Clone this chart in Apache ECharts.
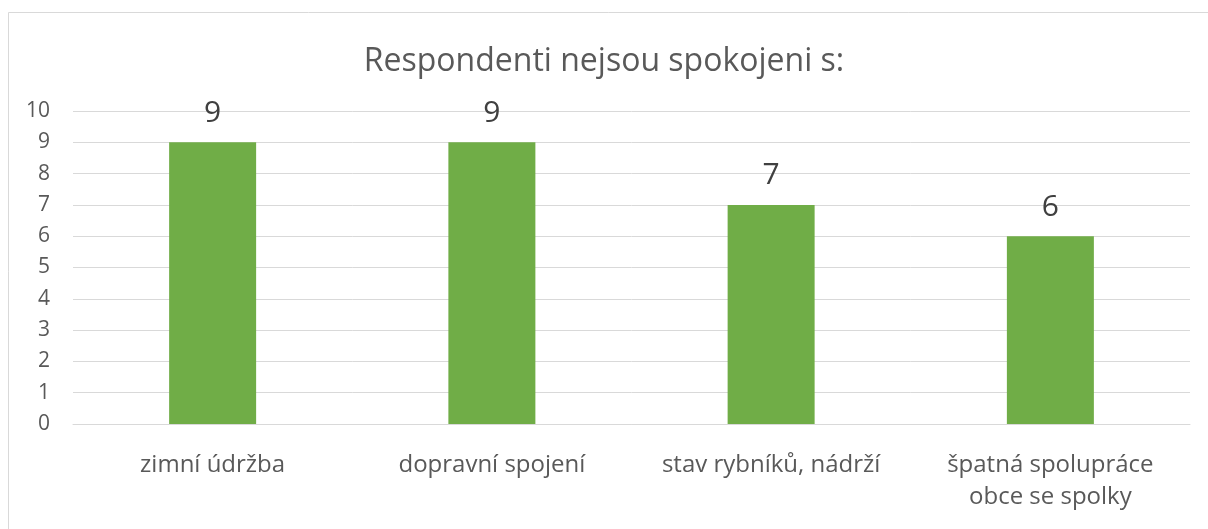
<!DOCTYPE html>
<html>
<head>
<meta charset="utf-8">
<script src="https://cdn.jsdelivr.net/npm/echarts@6/dist/echarts.min.js"></script>
<style>
html, body { margin: 0; padding: 0; background: #fff; }
#main { width: 1208px; height: 529px; }
</style>
</head>
<body>
<div id="main"></div>
<script>
// data
var categories = ['zimní údržba', 'dopravní spojení', 'stav rybníků, nádrží', 'špatná spolupráce\nobce se spolky'];
var values = [9, 9, 7, 6];
var titleText = 'Respondenti nejsou spokojeni s:';

var myChart = echarts.init(document.getElementById('main'));
var font = '"Open Sans", "Noto Sans", sans-serif';

var option = {
	animation: false,
	backgroundColor: '#fff',
	textStyle: { fontFamily: font },
	// ramecek grafu
	graphic: [{
		type: 'rect',
		shape: { x: 8.5, y: 12.5, width: 1220, height: 540 },
		style: { fill: 'none', stroke: '#d9d9d9', lineWidth: 1 },
		silent: true
	}],
	title: {
		text: titleText,
		left: 'center',
		top: 41,
		textStyle: { fontFamily: font, fontSize: 32, fontWeight: 'normal', color: '#595959' }
	},
	grid: { left: 73, right: 18, top: 111, bottom: 105 },
	xAxis: {
		type: 'category',
		data: categories,
		axisLine: { lineStyle: { color: '#d9d9d9' } },
		axisTick: { show: false },
		axisLabel: { interval: 0, color: '#595959', fontSize: 24, fontFamily: font, margin: 25, lineHeight: 32 }
	},
	yAxis: {
		type: 'value',
		min: 0,
		max: 10,
		interval: 1,
		axisLine: { show: false },
		axisTick: { show: false },
		axisLabel: { color: '#595959', fontSize: 21, fontFamily: font, margin: 23 },
		splitLine: { lineStyle: { color: '#d9d9d9', width: 1 } }
	},
	series: [{
		type: 'bar',
		data: values,
		barWidth: 87,
		itemStyle: { color: '#70ad47' },
		label: {
			show: true,
			position: 'top',
			distance: 14,
			fontSize: 30,
			fontFamily: font,
			color: '#404040'
		}
	}]
};
myChart.setOption(option);
</script>
</body>
</html>
